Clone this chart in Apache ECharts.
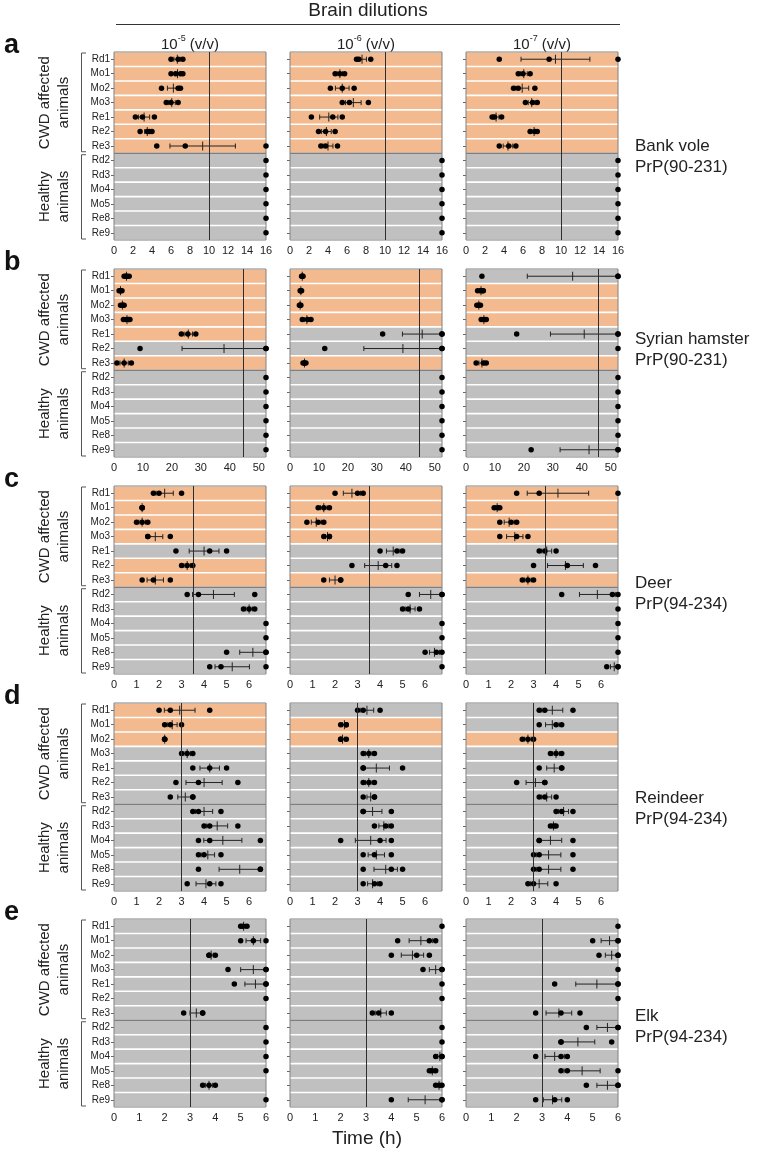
<!DOCTYPE html>
<html lang="en">
<head>
<meta charset="UTF-8">
<title>RT-QuIC lag times</title>
<script src="https://cdn.jsdelivr.net/npm/echarts@6.0.0/dist/echarts.min.js"></script>
<style>
  html, body { margin: 0; padding: 0; background: #fff; }
  #main { width: 758px; height: 1150px; }
</style>
</head>
<body>
<div id="main"></div>
<script>
// animals on the y axis (first 7 = CWD affected, last 6 = healthy)
const cats = ['Rd1', 'Mo1', 'Mo2', 'Mo3', 'Re1', 'Re2', 'Re3', 'Rd2', 'Rd3', 'Mo4', 'Mo5', 'Re8', 'Re9'];
const cwdCount = 7;
const dilutions = ['-5', '-6', '-7'];
const letters = ['a', 'b', 'c', 'd', 'e'];
const speciesName = ['Bank vole', 'Syrian hamster', 'Deer', 'Reindeer', 'Elk'];
const speciesPrp = ['PrP(90-231)', 'PrP(90-231)', 'PrP(94-234)', 'PrP(94-234)', 'PrP(94-234)'];

// x axis per row
const rowMax = [16, 52.5, 6.75, 6.75, 6];
const rowStep = [2, 10, 1, 1, 1];
const thresholds = [[10, 10, 10], [44.5, 44.5, 45.6], [3.5, 3.5, 3.5], [3, 3, 3], [3, 3, 3]];

// which rows are positive (orange), one string per dilution
const posA = ['1111111000000', '1111111000000', '1111111000000'];
const posB = ['1111101000000', '1111001000000', '0111001000000'];
const posC = ['1111011000000', '1111001000000', '1111001000000'];
const posD = ['1110000000000', '0110000000000', '0010000000000'];
const posE = ['0000000000000', '0000000000000', '0000000000000'];

// replicate lag times (h), one list per animal
const bankVole5 = [[6.0, 6.75, 7.25], [6.0, 6.5, 7.0, 7.25], [5.0, 6.75, 7.0], [5.5, 6.0, 6.75], [2.25, 3.0, 4.25], [2.75, 3.5, 3.75, 4.0], [4.5, 7.5, 16],
  [16], [16], [16], [16], [16], [16]];
const bankVole6 = [[7.0, 7.25, 8.5], [4.75, 5.25, 5.75], [4.25, 5.5, 6.75], [5.5, 6.25, 8.25], [2.25, 4.5, 5.5], [3.0, 3.75, 4.75], [3.25, 3.75, 5.0],
  [16], [16], [16], [16], [16], [16]];
const bankVole7 = [[3.5, 8.75, 16], [5.5, 6.0, 6.75], [5.0, 5.5, 7.25], [6.25, 7.0, 7.5], [2.75, 3.0, 3.75], [6.75, 7.25, 7.5], [3.5, 4.5, 5.25],
  [16], [16], [16], [16], [16], [16]];

const hamster5 = [[3.5, 4.0, 4.5, 5.25], [1.75, 2.25, 2.75], [2.25, 3.0, 3.5], [3.25, 4.25, 5.0, 5.5], [23.25, 25.5, 28.25], [9, 52.5, 52.5], [1.0, 3.5, 6.0],
  [52.5], [52.5], [52.5], [52.5], [52.5], [52.5]];
const hamster6 = [[4.0, 4.25, 4.5], [3.5, 3.75, 4.0], [3.25, 3.5, 3.75], [4.25, 6.0, 7.25], [32, 52.5, 52.5], [12, 52.5, 52.5], [4.5, 5.0, 5.5],
  [52.5], [52.5], [52.5], [52.5], [52.5], [52.5]];
const hamster7 = [[5.5, 52.5, 52.5], [4.0, 5.0, 5.75, 6.0], [3.75, 4.5, 5.0], [5.25, 6.25, 7.0], [17.5, 52.5, 52.5], [52.5], [3.5, 6.0, 7.0],
  [52.5], [52.5], [52.5], [52.5], [52.5], [22.5, 52.5, 52.5]];

const deer5 = [[1.75, 2.0, 3.0], [1.25, 1.25, 1.25], [1.0, 1.25, 1.5], [1.5, 1.5, 2.5], [2.75, 4.25, 5.0], [3.0, 3.25, 3.5], [1.25, 1.75, 2.5],
  [3.25, 3.75, 6.25], [5.75, 6.0, 6.25], [6.75], [6.75], [5.0, 6.75, 6.75], [4.25, 4.75, 6.75]];
const deer6 = [[2.0, 3.0, 3.25], [1.25, 1.5, 1.75], [0.75, 1.25, 1.5], [1.5, 1.75, 1.75], [4.0, 4.75, 5.0], [2.75, 4.25, 4.75], [1.5, 2.25, 2.25],
  [5.25, 6.75, 6.75], [5.0, 5.25, 5.75], [6.75], [6.75], [6.0, 6.5, 6.75], [6.75]];
const deer7 = [[2.25, 3.25, 6.75], [1.25, 1.4, 1.5], [1.5, 2.0, 2.25], [1.5, 2.25, 2.75], [3.25, 3.5, 4.0], [3.0, 4.5, 5.75], [2.5, 2.75, 3.0],
  [4.25, 6.5, 6.75], [6.75], [6.75], [6.75], [6.75], [6.25, 6.75, 6.75]];

const reindeer5 = [[2.0, 2.5, 4.25], [2.25, 2.5, 3.0], [2.25, 2.25, 2.25], [3.0, 3.25, 3.5], [3.5, 4.25, 5.0], [2.75, 3.75, 5.5], [2.5, 3.5, 3.5],
  [3.5, 3.75, 4.75], [4.0, 4.25, 5.5], [3.75, 4.25, 6.5], [3.75, 4.0, 4.75], [3.75, 6.5, 6.5], [3.25, 4.25, 4.75]];
const reindeer6 = [[3.0, 3.25, 4.0], [2.25, 2.5, 2.5], [2.25, 2.25, 2.5], [3.25, 3.5, 3.75], [3.25, 3.25, 5.0], [3.25, 3.5, 3.75], [3.25, 3.75, 3.75],
  [3.25, 3.25, 4.5], [3.75, 4.25, 4.5], [2.25, 4.0, 4.5], [3.25, 3.75, 4.5], [3.25, 4.5, 5.0], [3.25, 3.75, 4.0]];
const reindeer7 = [[3.25, 3.5, 4.75], [3.25, 4.0, 4.25], [2.5, 2.75, 3.0], [3.75, 4.0, 4.25], [3.25, 4.25, 4.25], [2.25, 3.5, 3.5], [3.25, 3.5, 4.0],
  [4.0, 4.25, 4.75], [3.75, 3.9, 4.0], [3.25, 3.25, 4.75], [3.0, 3.25, 4.75], [3.0, 3.25, 4.75], [2.75, 3.0, 4.0]];

const elk5 = [[5.0, 5.1, 5.25], [5.0, 5.5, 6.0], [3.75, 3.75, 4.0], [4.5, 6.0, 6.0], [4.75, 6.0, 6.0], [6], [2.75, 3.5, 3.5],
  [6], [6], [6], [6], [3.5, 3.75, 4.0], [6]];
const elk6 = [[6], [4.25, 5.5, 5.75], [4.0, 5.0, 5.5], [5.25, 6.0, 6.0], [6], [6], [3.25, 3.5, 4.0],
  [6], [6], [5.75, 6.0, 6.0], [5.5, 5.6, 5.75], [5.75, 5.9, 6.0], [4.0, 6.0, 6.0]];
const elk7 = [[6], [5.0, 6.0, 6.0], [5.25, 6.0, 6.0], [6], [3.5, 6.0, 6.0], [6], [2.75, 3.75, 4.5],
  [4.75, 6.0, 6.0], [3.75, 3.75, 5.75], [2.75, 3.75, 4.0], [3.75, 4.0, 6.0], [4.75, 6.0, 6.0], [2.75, 3.5, 4.0]];

const panels = [
  [bankVole5, bankVole6, bankVole7],
  [hamster5, hamster6, hamster7],
  [deer5, deer6, deer7],
  [reindeer5, reindeer6, reindeer7],
  [elk5, elk6, elk7]
];
const positives = [posA, posB, posC, posD, posE];

// layout
const colLeft = [114, 290, 466];
const rowTop = [52, 269, 486, 703, 919];
const speciesY = [146, 339, 583, 798, 1016];
const panelW = 152;
const panelH = 188;
const FONT = '"Liberation Sans", Arial, sans-serif';
const ORANGE = '#F2BA8E';
const GREY = '#C0C0C0';

function meanSem (vals) {
  const n = vals.length;
  const m = vals.reduce((a, b) => a + b, 0) / n;
  if (n < 2) return [m, 0];
  const sd = Math.sqrt(vals.reduce((a, b) => a + (b - m) * (b - m), 0) / (n - 1));
  return [m, sd / Math.sqrt(n)];
}

const grid = [], xAxis = [], yAxis = [], series = [];

panels.forEach((row, r) => {
  row.forEach((pts, c) => {
    const g = r * 3 + c;
    const step = rowStep[r];
    grid.push({ left: colLeft[c], top: rowTop[r], width: panelW, height: panelH, containLabel: false });
    xAxis.push({
      gridIndex: g, type: 'value', min: 0, max: rowMax[r], interval: step,
      axisLine: { show: false }, axisTick: { show: false }, splitLine: { show: false },
      axisLabel: {
        fontSize: 11, color: '#222', margin: 5, fontFamily: FONT,
        showMaxLabel: rowMax[r] % step === 0,
        formatter: v => (Math.abs(v / step - Math.round(v / step)) < 1e-6 ? String(v) : '')
      }
    });
    yAxis.push({
      gridIndex: g, type: 'category', data: cats, inverse: true,
      axisLine: { show: false },
      axisTick: { show: true, alignWithLabel: true, length: 3, lineStyle: { color: '#666' } },
      axisLabel: { show: c === 0, fontSize: 10, color: '#222', margin: 4, fontFamily: FONT }
    });

    // coloured background rows
    series.push({
      type: 'bar', xAxisIndex: g, yAxisIndex: g, silent: true, z: 1, barWidth: '89%',
      data: cats.map((_, i) => ({
        value: rowMax[r],
        itemStyle: { color: positives[r][c][i] === '1' ? ORANGE : GREY }
      }))
    });

    // frame + CWD / healthy separator + threshold
    series.push({
      type: 'custom', xAxisIndex: g, yAxisIndex: g, silent: true, z: 2,
      data: [[0, cwdCount - 1]],
      renderItem: (params, api) => {
        const cs = params.coordSys;
        const ys = api.coord([0, api.value(1)])[1] + api.size([0, 1])[1] / 2;
        return {
          type: 'group',
          children: [
            { type: 'line', shape: { x1: cs.x, y1: ys, x2: cs.x + cs.width, y2: ys }, style: { stroke: '#4d4d4d', lineWidth: 1 } },
            { type: 'rect', shape: { x: cs.x, y: cs.y, width: cs.width, height: cs.height }, style: { fill: 'none', stroke: '#808080', lineWidth: 1 } }
          ]
        };
      },
      markLine: {
        silent: true, symbol: ['none', 'none'], label: { show: false }, animation: false,
        lineStyle: { color: '#2e2e2e', width: 1, type: 'solid' },
        data: [{ xAxis: thresholds[r][c] }]
      }
    });

    // mean +/- SEM
    const errData = [];
    pts.forEach((vals, i) => {
      if (vals.length < 2) return;
      const [m, s] = meanSem(vals);
      errData.push([Math.max(0, m - s), Math.min(rowMax[r], m + s), m, i]);
    });
    series.push({
      type: 'custom', xAxisIndex: g, yAxisIndex: g, silent: true, z: 3,
      encode: { x: [0, 1, 2], y: 3 },
      data: errData,
      renderItem: (params, api) => {
        const yi = api.value(3);
        const p0 = api.coord([api.value(0), yi]);
        const p1 = api.coord([api.value(1), yi]);
        const pm = api.coord([api.value(2), yi]);
        const st = { stroke: '#222', lineWidth: 1 };
        const kids = [
          { type: 'line', shape: { x1: pm[0], y1: pm[1] - 4.5, x2: pm[0], y2: pm[1] + 4.5 }, style: st }
        ];
        if (p1[0] - p0[0] > 0.5) {
          kids.push({ type: 'line', shape: { x1: p0[0], y1: p0[1], x2: p1[0], y2: p1[1] }, style: st });
          kids.push({ type: 'line', shape: { x1: p0[0], y1: p0[1] - 2.5, x2: p0[0], y2: p0[1] + 2.5 }, style: st });
          kids.push({ type: 'line', shape: { x1: p1[0], y1: p1[1] - 2.5, x2: p1[0], y2: p1[1] + 2.5 }, style: st });
        }
        return { type: 'group', children: kids };
      }
    });

    // replicate points
    const dots = [];
    pts.forEach((vals, i) => vals.forEach(v => dots.push([v, i])));
    series.push({
      type: 'scatter', xAxisIndex: g, yAxisIndex: g, silent: true, z: 4, clip: false,
      symbolSize: 5.5, itemStyle: { color: '#000', opacity: 1 },
      data: dots
    });
  });
});

// text and brackets around the panels
const graphic = [];
graphic.push({ type: 'text', x: 368, y: 11, style: { text: 'Brain dilutions', font: '19px ' + FONT, fill: '#222', textAlign: 'center', textVerticalAlign: 'middle' } });
graphic.push({ type: 'line', shape: { x1: 116, y1: 24.5, x2: 620, y2: 24.5 }, style: { stroke: '#333', lineWidth: 1 } });
dilutions.forEach((d, c) => {
  graphic.push({
    type: 'text', x: colLeft[c] + panelW / 2, y: 43,
    style: {
      text: '{b|10}{s|' + d + '}{b| (v/v)}', textAlign: 'center', textVerticalAlign: 'middle', fill: '#222',
      rich: {
        b: { fontSize: 15, fontFamily: FONT, lineHeight: 18, fill: '#222', verticalAlign: 'bottom' },
        s: { fontSize: 9, fontFamily: FONT, lineHeight: 10, fill: '#222', verticalAlign: 'top' }
      }
    }
  });
});
graphic.push({ type: 'text', x: 367, y: 1139, style: { text: 'Time (h)', font: '19px ' + FONT, fill: '#222', textAlign: 'center', textVerticalAlign: 'middle' } });

const rowH = panelH / cats.length;
rowTop.forEach((top, r) => {
  const cwdMid = top + rowH * cwdCount / 2;
  const hMid = top + rowH * cwdCount + rowH * (cats.length - cwdCount) / 2;
  graphic.push({ type: 'text', x: 4, y: top - 6, style: { text: letters[r], font: 'bold 27px ' + FONT, fill: '#111', textAlign: 'left', textVerticalAlign: 'middle' } });
  [['CWD affected', cwdMid], ['Healthy', hMid]].forEach(([t, ym]) => {
    graphic.push({ type: 'text', x: 45, y: ym, rotation: Math.PI / 2, style: { text: t, font: '15px ' + FONT, fill: '#222', textAlign: 'center', textVerticalAlign: 'middle' } });
    graphic.push({ type: 'text', x: 64, y: ym, rotation: Math.PI / 2, style: { text: 'animals', font: '15px ' + FONT, fill: '#222', textAlign: 'center', textVerticalAlign: 'middle' } });
  });
  const b1 = top + 1, b2 = top + rowH * cwdCount - 1.5, b3 = top + rowH * cwdCount + 1.5, b4 = top + panelH - 1;
  [[b1, b2], [b3, b4]].forEach(([ya, yb]) => {
    graphic.push({ type: 'polyline', shape: { points: [[86, ya], [81.5, ya], [81.5, yb], [86, yb]] }, style: { stroke: '#555', lineWidth: 1, fill: null } });
  });
  // two-line species label, first line centred on speciesY
  graphic.push({ type: 'text', x: 635, y: speciesY[r] - 10.5, style: { text: speciesName[r] + '\n' + speciesPrp[r], font: '17px ' + FONT, lineHeight: 21, fill: '#222', textAlign: 'left', textVerticalAlign: 'top' } });
});

const chart = echarts.init(document.getElementById('main'), null, { renderer: 'canvas' });
chart.setOption({
  animation: false,
  backgroundColor: '#fff',
  textStyle: { fontFamily: FONT },
  grid, xAxis, yAxis, series, graphic
});
</script>
</body>
</html>
